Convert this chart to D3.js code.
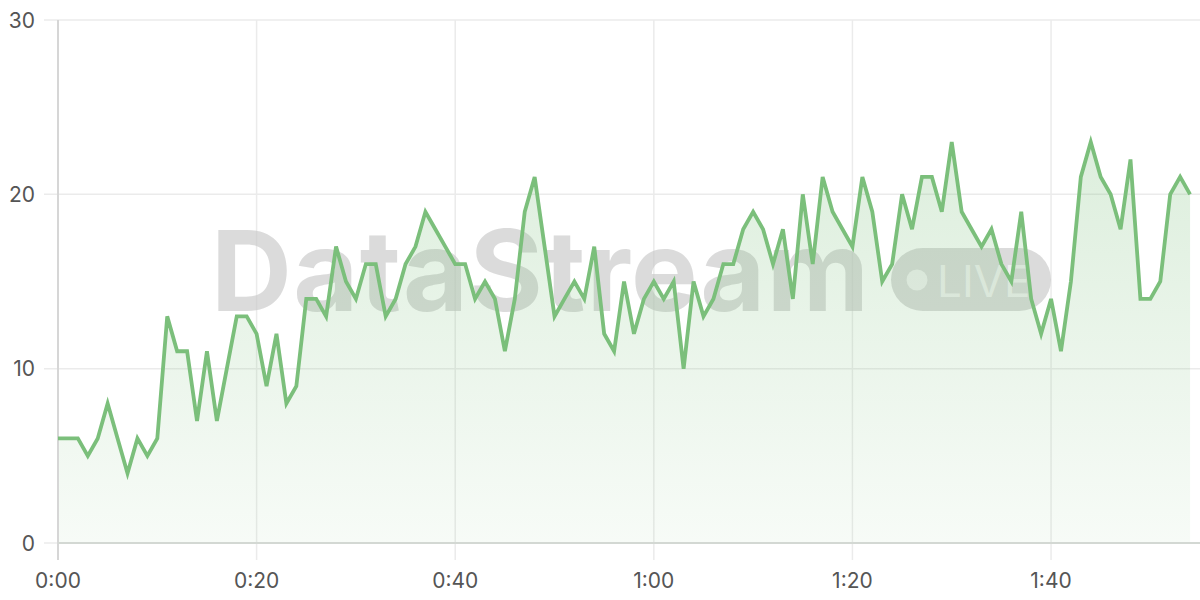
<!DOCTYPE html>
<html>
<head>
<meta charset="utf-8">
<script src="https://cdn.jsdelivr.net/npm/d3@7"></script>
<style>
  html, body { margin: 0; padding: 0; background: #ffffff; }
  svg { display: block; }
</style>
</head>
<body>
<svg id="chart" width="1200" height="600"></svg>
<script>
// ---- data ----
const seconds = d3.range(0, 115); // 0..114 seconds
const values = [
  6, 6, 6, 5, 6, 8, 6, 4, 6, 5,
  6, 13, 11, 11, 7, 11, 7, 10, 13, 13,
  12, 9, 12, 8, 9, 14, 14, 13, 17, 15,
  14, 16, 16, 13, 14, 16, 17, 19, 18, 17,
  16, 16, 14, 15, 14, 11, 14, 19, 21, 17,
  13, 14, 15, 14, 17, 12, 11, 15, 12, 14,
  15, 14, 15, 10, 15, 13, 14, 16, 16, 18,
  19, 18, 16, 18, 14, 20, 16, 21, 19, 18,
  17, 21, 19, 15, 16, 20, 18, 21, 21, 19,
  23, 19, 18, 17, 18, 16, 15, 19, 14, 12,
  14, 11, 15, 21, 23, 21, 20, 18, 22, 14,
  14, 15, 20, 21, 20
];
const xTicks = [0, 20, 40, 60, 80, 100];
const yTicks = [0, 10, 20, 30];
const watermarkText = "DataStream";
const badgeText = "LIVE";

const data = seconds.map((s, i) => ({ s, v: values[i] }));

(function () {
// ---- layout ----
const svg = d3.select("#chart");
const mLeft = 58, mRight = 1200, mTop = 20, mBottom = 543;

const x = d3.scaleLinear().domain([0, 115]).range([mLeft, mRight]);
const y = d3.scaleLinear().domain([0, 30]).range([mBottom, mTop]);

const fmt = s => Math.floor(s / 60) + ":" + String(s % 60).padStart(2, "0");

// gradient
const defs = svg.append("defs");
const grad = defs.append("linearGradient")
  .attr("id", "fillGrad")
  .attr("gradientUnits", "userSpaceOnUse")
  .attr("x1", 0).attr("y1", y(23)).attr("x2", 0).attr("y2", y(0));
grad.append("stop").attr("offset", "0%").attr("stop-color", "#7bbf7b").attr("stop-opacity", 0.26);
grad.append("stop").attr("offset", "100%").attr("stop-color", "#7bbf7b").attr("stop-opacity", 0.06);

// grid: horizontal
svg.append("g").selectAll("line").data(yTicks).join("line")
  .attr("x1", mLeft - 14).attr("x2", mRight)
  .attr("y1", d => y(d)).attr("y2", d => y(d))
  .attr("stroke", "#ebebeb").attr("stroke-width", 1.5);

// grid: vertical
svg.append("g").selectAll("line").data(xTicks).join("line")
  .attr("x1", d => x(d)).attr("x2", d => x(d))
  .attr("y1", mTop).attr("y2", mBottom + 17)
  .attr("stroke", "#ebebeb").attr("stroke-width", 1.5);

// watermark
const wm = svg.append("g");
wm.append("text")
  .attr("x", 211).attr("y", 311)
  .attr("font-family", "Inter, 'Liberation Sans', sans-serif")
  .attr("font-weight", 700)
  .attr("font-size", 112)
  .attr("textLength", 658)
  .attr("lengthAdjust", "spacing")
  .attr("fill", "#c8c8c8")
  .attr("fill-opacity", 0.65)
  .text(watermarkText);
wm.append("rect")
  .attr("x", 891).attr("y", 248).attr("width", 160).attr("height", 63).attr("rx", 31.5)
  .attr("fill", "#c8c8c8").attr("fill-opacity", 0.65);
wm.append("circle")
  .attr("cx", 917).attr("cy", 280).attr("r", 10.5)
  .attr("fill", "#ffffff").attr("fill-opacity", 0.6);
wm.append("text")
  .attr("x", 937).attr("y", 297)
  .attr("font-family", "Inter, 'Liberation Sans', sans-serif")
  .attr("font-weight", 400)
  .attr("font-size", 44)
  .attr("fill", "#ffffff").attr("fill-opacity", 0.6)
  .text(badgeText);

// area
const area = d3.area().x(d => x(d.s)).y0(y(0)).y1(d => y(d.v));
svg.append("path").datum(data)
  .attr("d", area)
  .attr("fill", "url(#fillGrad)");

// axes lines
svg.append("line").attr("x1", mLeft).attr("x2", mLeft).attr("y1", mTop).attr("y2", mBottom + 17)
  .attr("stroke", "#d6d6d6").attr("stroke-width", 2);
svg.append("line").attr("x1", mLeft).attr("x2", mRight).attr("y1", mBottom).attr("y2", mBottom)
  .attr("stroke", "#d3d8d3").attr("stroke-width", 2);

// line
const line = d3.line().x(d => x(d.s)).y(d => y(d.v));
svg.append("path").datum(data)
  .attr("d", line)
  .attr("fill", "none")
  .attr("stroke", "#7bbf7b")
  .attr("stroke-width", 3.8)
  .attr("stroke-linejoin", "miter");

// y labels
svg.append("g").selectAll("text").data(yTicks).join("text")
  .attr("x", 35).attr("y", d => y(d)).attr("dy", "0.36em")
  .attr("text-anchor", "end")
  .attr("font-family", "Inter, 'Liberation Sans', sans-serif")
  .attr("font-size", 21).attr("fill", "#555555")
  .text(d => d);

// x labels
svg.append("g").selectAll("text").data(xTicks).join("text")
  .attr("x", d => x(d)).attr("y", 580).attr("dy", "0.36em")
  .attr("text-anchor", "middle")
  .attr("font-family", "Inter, 'Liberation Sans', sans-serif")
  .attr("font-size", 21).attr("fill", "#555555")
  .text(d => fmt(d));
})();
</script>
</body>
</html>
